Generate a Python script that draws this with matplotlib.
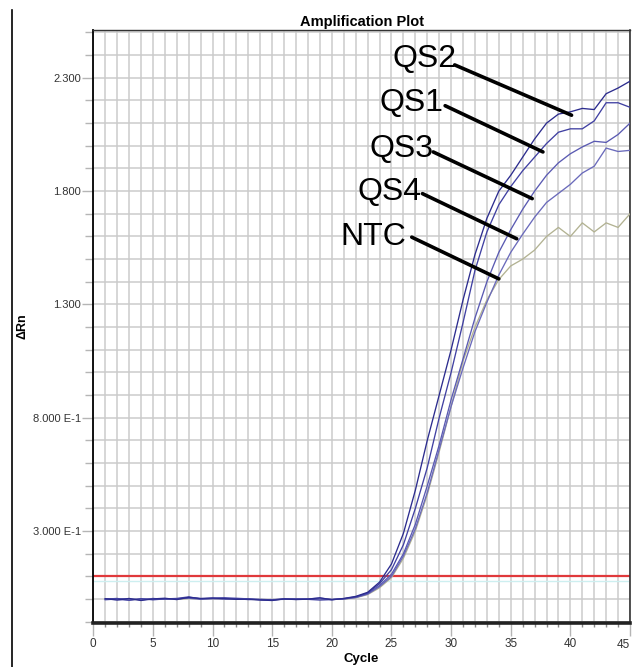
import matplotlib
matplotlib.use("Agg")
import matplotlib.pyplot as plt
from matplotlib.lines import Line2D
from matplotlib.ticker import MultipleLocator, FixedLocator

# ---- data ----
cycles = list(range(1, 46))

qs2 = [0.002, -0.004, 0.003, -0.006, 0.001, 0.004, -0.002, 0.008, 0.003, 0.005,
       0.002, -0.001, 0.000, -0.004, -0.006, 0.001, -0.002, 0.000, 0.006, -0.003,
       0.003, 0.012, 0.030, 0.075, 0.155, 0.29, 0.48, 0.70, 0.90, 1.10,
       1.32, 1.52, 1.68, 1.80, 1.87, 1.95, 2.03, 2.10, 2.14, 2.15,
       2.165, 2.16, 2.23, 2.255, 2.285]
qs1 = [0.000, 0.003, -0.005, 0.002, -0.003, 0.001, 0.003, 0.010, 0.001, 0.004,
       0.006, 0.002, -0.002, -0.001, -0.003, 0.000, 0.001, -0.001, -0.004, -0.002,
       0.002, 0.010, 0.027, 0.068, 0.13, 0.24, 0.40, 0.58, 0.80, 1.00,
       1.22, 1.45, 1.62, 1.74, 1.82, 1.89, 1.95, 2.01, 2.06, 2.075,
       2.075, 2.11, 2.19, 2.19, 2.17]
qs3 = [-0.003, 0.001, 0.002, -0.004, 0.003, -0.001, 0.002, 0.004, 0.000, 0.002,
       0.003, 0.004, 0.001, -0.003, -0.002, -0.001, 0.000, 0.001, 0.004, -0.001,
       0.001, 0.008, 0.024, 0.060, 0.11, 0.20, 0.33, 0.50, 0.68, 0.88,
       1.06, 1.24, 1.40, 1.53, 1.63, 1.72, 1.80, 1.87, 1.925, 1.965,
       1.995, 2.02, 2.015, 2.05, 2.10]
qs4 = [0.001, -0.002, -0.004, 0.001, 0.000, 0.002, 0.001, 0.006, 0.002, 0.003,
       0.000, 0.001, 0.002, -0.002, -0.004, 0.002, -0.001, 0.001, 0.002, -0.002,
       0.001, 0.007, 0.022, 0.055, 0.10, 0.19, 0.31, 0.47, 0.66, 0.85,
       1.02, 1.18, 1.31, 1.43, 1.53, 1.61, 1.685, 1.75, 1.79, 1.83,
       1.88, 1.91, 1.99, 1.975, 1.98]
ntc = [0.000, 0.001, -0.002, -0.001, 0.002, 0.000, -0.001, 0.003, 0.001, 0.002,
       0.001, 0.000, -0.001, -0.002, -0.003, 0.000, 0.001, 0.000, 0.002, -0.001,
       0.000, 0.006, 0.020, 0.050, 0.095, 0.18, 0.30, 0.46, 0.65, 0.85,
       1.05, 1.20, 1.32, 1.41, 1.47, 1.50, 1.54, 1.60, 1.64, 1.60,
       1.66, 1.62, 1.66, 1.64, 1.70]

series = [("NTC", ntc, "#b2b292"), ("QS4", qs4, "#6a6abb"),
          ("QS3", qs3, "#5a5ab2"), ("QS1", qs1, "#4040a2"),
          ("QS2", qs2, "#2c2c8e")]

threshold = 0.1
ytick_vals = [0.3, 0.8, 1.3, 1.8, 2.3]
ytick_labels = ["3.000 E-1", "8.000 E-1", "1.300", "1.800", "2.300"]
xtick_vals = list(range(0, 46, 5))

# label text centre, line start, line end (data coords)
callouts = [
    ("QS2", (27.8, 2.382), (30.3, 2.357), (40.1, 2.135)),
    ("QS1", (26.7, 2.187), (29.5, 2.177), (37.7, 1.973)),
    ("QS3", (25.8, 1.988), (28.5, 1.973), (36.8, 1.767)),
    ("QS4", (24.8, 1.798), (27.6, 1.789), (35.5, 1.590)),
    ("NTC", (23.5, 1.599), (26.7, 1.597), (34.0, 1.413)),
]

narrow = ["Liberation Sans Narrow", "Liberation Sans", "DejaVu Sans"]
plt.rcParams["font.family"] = ["Liberation Sans", "DejaVu Sans"]

fig = plt.figure(figsize=(6.34, 6.67), dpi=100)
ax = fig.add_axes([93.3 / 634, 1 - 622.7 / 667, (630 - 93.3) / 634, (622.7 - 30) / 667])

ymin, ymax = -0.104, 2.511
ax.set_xlim(0, 45)
ax.set_ylim(ymin, ymax)

# grid
ax.xaxis.set_minor_locator(MultipleLocator(1))
ax.yaxis.set_minor_locator(MultipleLocator(0.1))
ax.grid(which="both", color="#cbcbcb", lw=1.1, zorder=0)
ax.set_axisbelow(True)

# threshold line (plus faint cyan shadow)
ax.axhline(threshold - 0.018, color="#cdeff0", lw=1.0, zorder=1)
ax.axhline(threshold, color="#e0393b", lw=1.6, zorder=2)

for name, vals, col in series:
    ax.plot(cycles, vals, color=col, lw=0.95, zorder=3)

for name, txt, start, end in callouts:
    ax.text(txt[0], txt[1], name, ha="center", va="center", fontsize=23, color="black", zorder=5)
    ax.annotate("", xy=end, xytext=start,
                arrowprops=dict(arrowstyle="-", lw=2.6, color="black", shrinkA=0, shrinkB=0),
                zorder=5)

# ticks
ax.yaxis.set_major_locator(FixedLocator(ytick_vals))
ax.set_yticklabels(ytick_labels)
ax.set_xticks(xtick_vals)
ax.set_xticklabels([str(v) for v in xtick_vals[:-1]] + [""])
ax.tick_params(axis="y", which="major", length=8, width=1, color="#b5b5b5", pad=1,
               labelsize=8, labelcolor="#333333")
ax.tick_params(axis="y", which="minor", length=6, width=1, color="#b5b5b5")
ax.tick_params(axis="x", which="major", length=9, width=1, color="#b5b5b5", pad=2,
               labelsize=8.5, labelcolor="#333333")
ax.tick_params(axis="x", which="minor", length=3, width=1, color="#888888")
for lab in ax.get_xticklabels() + ax.get_yticklabels():
    lab.set_family(narrow)
# last x label sits at the right edge; keep it inside the canvas
ax.text(45, ymin - 16.5 / 226, str(xtick_vals[-1]), ha="right", va="top",
        fontsize=8.5, color="#333333", family=narrow, clip_on=False)

# spines
ax.spines["left"].set_color("black")
ax.spines["left"].set_linewidth(1.3)
ax.spines["bottom"].set_color("#222222")
ax.spines["bottom"].set_linewidth(2.6)
ax.spines["top"].set_color("#333333")
ax.spines["top"].set_linewidth(1.0)
ax.spines["right"].set_color("#333333")
ax.spines["right"].set_linewidth(1.2)

ax.set_title("Amplification Plot", fontsize=10.5, fontweight="bold", family=narrow, pad=3)
ax.set_xlabel("Cycle", fontsize=9.5, fontweight="bold", family=narrow, labelpad=2)
ax.set_ylabel("\u0394Rn", fontsize=9, fontweight="bold", family=narrow)
ax.yaxis.set_label_coords((28 - 93.3) / (630 - 93.3), 0.5)

# screenshot border on the left
fig.add_artist(Line2D([11.7 / 634, 11.7 / 634], [0, 1 - 10 / 667], color="black", lw=1.2))

fig.savefig("out.png", dpi=100, facecolor="white")
